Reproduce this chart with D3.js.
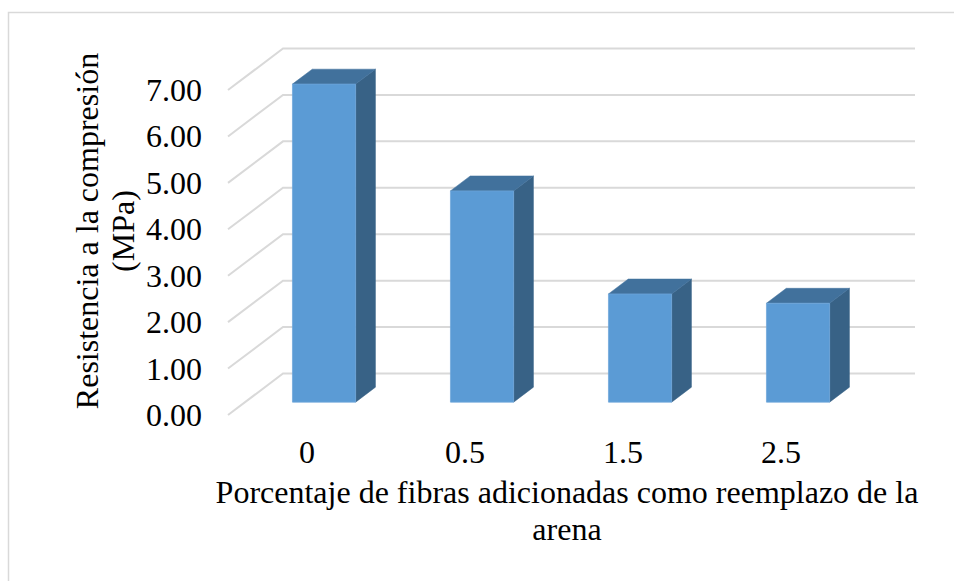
<!DOCTYPE html>
<html>
<head>
<meta charset="utf-8">
<script src="https://cdn.jsdelivr.net/npm/d3@7"></script>
<style>
  html, body { margin: 0; padding: 0; background: #fff; }
  svg { display: block; }
  text { font-family: "Liberation Serif", "Times New Roman", serif; fill: #000; }
</style>
</head>
<body>
<svg id="chart" width="954" height="581"></svg>
<script>
// Compressive strength by fibre percentage
const categories = ["0", "0.5", "1.5", "2.5"];
const strength = [6.85, 4.55, 2.33, 2.13];
const yTicks = [0, 1, 2, 3, 4, 5, 6, 7];
const yTitle = ["Resistencia a la compresión", "(MPa)"];
const xTitle = ["Porcentaje de fibras adicionadas como reemplazo de la", "arena"];

const svg = d3.select("#chart");
const fontSize = 32;

// Oblique 3D projection: front floor edge plus a depth offset
const depthX = 55, depthY = 41.5;
const floorLeft = 228, floorRight = 860;
const x = d3.scaleBand().domain(categories).range([floorLeft, floorRight]);
const y = d3.scaleLinear().domain([0, 7]).range([415, 90]);
const proj = (px, v, t) => [px + t * depthX, y(v) - t * depthY];

// Chart area border
svg.append("rect")
  .attr("x", 8.5).attr("y", 12.5)
  .attr("width", 1000).attr("height", 600)
  .attr("fill", "none").attr("stroke", "#d9d9d9").attr("stroke-width", 1.5);

// Gridlines: side wall diagonal then back wall
const grid = svg.append("g");
yTicks.forEach(v => {
  const a = proj(floorLeft, v, 0);
  const b = proj(floorLeft, v, 1);
  const c = proj(floorRight, v, 1);
  grid.append("path")
    .attr("d", d3.line()([a, b, c]))
    .attr("fill", "none").attr("stroke", "#d9d9d9").attr("stroke-width", 2);
});

// Y tick labels
svg.append("g").selectAll("text").data(yTicks).join("text")
  .attr("x", 202)
  .attr("y", d => y(d) + 11)
  .attr("text-anchor", "end")
  .attr("font-size", fontSize)
  .text(d => d3.format(".2f")(d));

// Bars as 3D boxes
const t0 = 0.31, t1 = 0.67;
const barW = x.bandwidth() / 2.5;
const bars = svg.append("g");
categories.forEach((c, i) => {
  const v = strength[i];
  const xl = x(c) + x.bandwidth() / 2 - barW / 2;
  const xr = xl + barW;
  const fbl = proj(xl, 0, t0), fbr = proj(xr, 0, t0);
  const ftl = proj(xl, v, t0), ftr = proj(xr, v, t0);
  const btl = proj(xl, v, t1), btr = proj(xr, v, t1), bbr = proj(xr, 0, t1);
  const line = d3.line();
  // side face
  bars.append("path").attr("d", line([fbr, ftr, btr, bbr]) + "Z")
    .attr("fill", "#386286").attr("stroke", "#386286").attr("stroke-width", 0.5);
  // top face
  bars.append("path").attr("d", line([ftl, ftr, btr, btl]) + "Z")
    .attr("fill", "#41719c").attr("stroke", "#41719c").attr("stroke-width", 0.5);
  // front face
  bars.append("path").attr("d", line([fbl, fbr, ftr, ftl]) + "Z")
    .attr("fill", "#5b9bd5").attr("stroke", "#6ea6d9").attr("stroke-width", 0.75);
});

// Category labels
svg.append("g").selectAll("text").data(categories).join("text")
  .attr("x", d => x(d) + x.bandwidth() / 2)
  .attr("y", 463)
  .attr("text-anchor", "middle")
  .attr("font-size", fontSize)
  .text(d => d);

// X axis title
svg.append("text")
  .attr("x", 567).attr("y", 503)
  .attr("text-anchor", "middle")
  .attr("font-size", fontSize)
  .selectAll("tspan").data(xTitle).join("tspan")
  .attr("x", 567)
  .attr("dy", (d, i) => i === 0 ? 0 : 37)
  .text(d => d);

// Y axis title
svg.append("text")
  .attr("transform", "translate(0,231) rotate(-90)")
  .attr("text-anchor", "middle")
  .attr("font-size", fontSize)
  .selectAll("tspan").data(yTitle).join("tspan")
  .attr("x", 0)
  .attr("y", (d, i) => 98 + i * 36)
  .text(d => d);
</script>
</body>
</html>
